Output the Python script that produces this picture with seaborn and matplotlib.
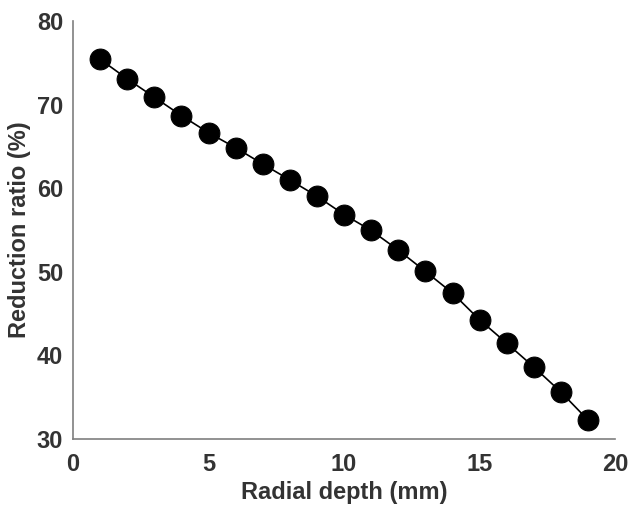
import numpy as np
import pandas as pd
import matplotlib
matplotlib.use("Agg")
import matplotlib.pyplot as plt
import seaborn as sns

# radial depth (mm) and reduction ratio (%)
depth = [1, 2, 3, 4, 5, 6, 7, 8, 9, 10, 11, 12, 13, 14, 15, 16, 17, 18, 19]
ratio = [75.45, 73.1, 70.9, 68.7, 66.65, 64.85, 62.9, 61.0, 59.05,
         56.85, 54.95, 52.6, 50.05, 47.45, 44.25, 41.45, 38.6, 35.6, 32.25]

df = pd.DataFrame({"depth": depth, "ratio": ratio})

sns.set_theme(style="white")
plt.rcParams["font.family"] = ["Liberation Sans", "DejaVu Sans"]
plt.rcParams["font.weight"] = "bold"

text_color = "#333333"
spine_color = "#7f7f7f"

fig = plt.figure(figsize=(6.29, 5.05), dpi=100)
ax = fig.add_axes([0.116, 0.131, 0.862, 0.827])

sns.lineplot(data=df, x="depth", y="ratio", ax=ax, color="black",
             linewidth=1.2, marker="o", markersize=15,
             markerfacecolor="black", markeredgecolor="black")

ax.set_xlim(0, 20)
ax.set_ylim(30, 80)
ax.set_xticks([0, 5, 10, 15, 20])
ax.set_yticks([30, 40, 50, 60, 70, 80])

ax.set_xlabel("Radial depth (mm)", fontsize=17, fontweight="bold",
              color=text_color, labelpad=4)
ax.set_ylabel("Reduction ratio (%)", fontsize=17, fontweight="bold",
              color=text_color, labelpad=4)

ax.tick_params(axis="both", direction="in", length=5, width=1,
               color=spine_color, labelsize=17, labelcolor=text_color)
ax.tick_params(axis="x", pad=10)
ax.tick_params(axis="y", pad=7)
for lbl in ax.get_xticklabels() + ax.get_yticklabels():
    lbl.set_fontweight("bold")

sns.despine(ax=ax)
for side in ["left", "bottom"]:
    ax.spines[side].set_color(spine_color)
    ax.spines[side].set_linewidth(1.2)

fig.savefig("out.png", dpi=100)
